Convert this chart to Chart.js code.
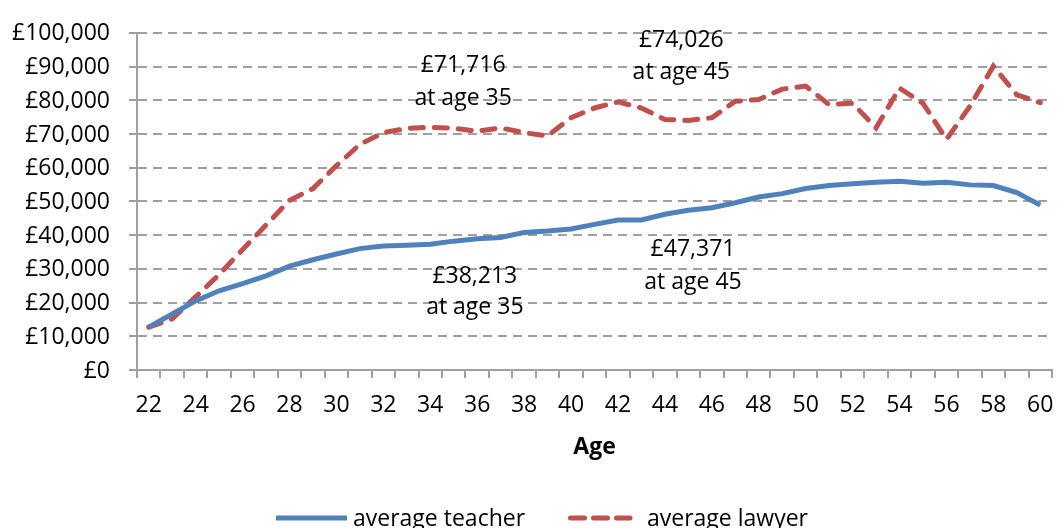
<!DOCTYPE html>
<html lang="en">
<head>
<meta charset="UTF-8" />
<title>Average teacher and lawyer pay by age</title>
<script src="https://cdn.jsdelivr.net/npm/chart.js"></script>
<style>
  body { margin: 0; background: #fff; }
  canvas { display: block; }
</style>
</head>
<body>
<canvas id="payChart" width="1057" height="528"></canvas>
<script>
const ages = [22, 23, 24, 25, 26, 27, 28, 29, 30, 31, 32, 33, 34, 35, 36, 37, 38, 39, 40,
  41, 42, 43, 44, 45, 46, 47, 48, 49, 50, 51, 52, 53, 54, 55, 56, 57, 58, 59, 60];

const teacherPay = [12700, 16600, 20500, 23500, 25600, 27900, 30800, 32700, 34400, 36000,
  36800, 37000, 37300, 38213, 38900, 39300, 40800, 41200, 41800, 43200,
  44500, 44500, 46200, 47371, 48100, 49600, 51300, 52300, 53800, 54700,
  55200, 55700, 56000, 55400, 55700, 54900, 54700, 52600, 48900];

const lawyerPay = [12700, 15200, 21700, 28300, 35700, 43000, 50300, 53800, 60600, 66900,
  70400, 71600, 72000, 71716, 70800, 71800, 70400, 69400, 74800, 77700,
  79500, 77700, 74300, 74026, 74800, 79700, 80200, 83300, 84200, 78700,
  79100, 71800, 83600, 79100, 68400, 78200, 90100, 81600, 79300];

// text notes on the plot, placed at an age and a pay level
const noteLines = ['£71,716', 'at age 35', '£74,026', 'at age 45',
  '£38,213', 'at age 35', '£47,371', 'at age 45'];
const noteAges = [35.4, 35.4, 44.7, 44.7, 35.9, 35.9, 45.2, 45.2];
const notePay = [90300, 80600, 97700, 88300, 27800, 18500, 35800, 26100];

Chart.defaults.font.family = '"Open Sans", sans-serif';
Chart.defaults.font.size = 23;
Chart.defaults.color = '#000';

const gridGrey = '#a0a0a0';

const notesPlugin = {
  id: 'notes',
  afterDatasetsDraw(chart) {
    const { ctx, scales: { x, y } } = chart;
    ctx.save();
    ctx.font = '23px "Open Sans"';
    ctx.fillStyle = '#000';
    ctx.textAlign = 'center';
    ctx.textBaseline = 'middle';
    noteLines.forEach((t, i) => {
      ctx.fillText(t, x.getPixelForValue(noteAges[i] - ages[0]), y.getPixelForValue(notePay[i]));
    });
    ctx.restore();
  }
};

// Excel-style legend: a short stroke of the series line then its name
const lineLegend = {
  id: 'lineLegend',
  afterDraw(chart) {
    const ctx = chart.ctx;
    const starts = [276, 568];
    const lineY = 518;
    ctx.save();
    ctx.font = '23px "Open Sans"';
    ctx.textBaseline = 'alphabetic';
    chart.data.datasets.forEach((ds, i) => {
      const x0 = starts[i];
      ctx.strokeStyle = ds.borderColor;
      ctx.lineWidth = 5;
      ctx.lineCap = ds.borderDash ? 'round' : 'butt';
      ctx.setLineDash(ds.borderDash ? [14, 9] : []);
      ctx.beginPath();
      ctx.moveTo(x0 + (ds.borderDash ? 2.5 : 0), lineY);
      ctx.lineTo(x0 + (ds.borderDash ? 62 : 71), lineY);
      ctx.stroke();
      ctx.fillStyle = '#000';
      ctx.fillText(ds.label, x0 + (ds.borderDash ? 79 : 77), 526);
    });
    ctx.restore();
  }
};

new Chart(document.getElementById('payChart'), {
  type: 'line',
  data: {
    labels: ages,
    datasets: [
      {
        label: 'average teacher',
        data: teacherPay,
        borderColor: '#4F81BD',
        borderWidth: 5,
        pointRadius: 0,
        tension: 0
      },
      {
        label: 'average lawyer',
        data: lawyerPay,
        borderColor: '#C0504D',
        borderWidth: 5,
        borderDash: [13, 11],
        borderCapStyle: 'round',
        pointRadius: 0,
        tension: 0
      }
    ]
  },
  options: {
    responsive: false,
    animation: false,
    layout: { padding: { top: 26, right: 5, left: 0, bottom: 0 } },
    plugins: {
      legend: { display: false },
      tooltip: { enabled: false }
    },
    scales: {
      x: {
        offset: true,
        grid: { drawOnChartArea: false, offset: true, tickLength: 8, color: gridGrey, lineWidth: 2, tickBorderDash: [] },
        border: { color: gridGrey, width: 2 },
        ticks: {
          autoSkip: false,
          maxRotation: 0,
          padding: 14,
          callback: (v, i) => (ages[i] % 2 === 0 ? ages[i] : '')
        },
        title: {
          display: true,
          text: 'Age',
          font: { weight: 'bold' },
          padding: { top: 0, bottom: 67 }
        },
        afterFit(scale) {
          scale.height = 158;
          scale.paddingLeft = 0;
          scale.paddingRight = 0;
        }
      },
      y: {
        min: 0,
        max: 100000,
        ticks: {
          stepSize: 10000,
          padding: 19,
          labelOffset: 1,
          callback: v => '£' + v.toLocaleString('en-GB')
        },
        grid: { color: gridGrey, lineWidth: 2, tickLength: 8, tickBorderDash: [] },
        border: { color: gridGrey, width: 2, dash: [9, 6] },
        afterFit(scale) { scale.width = 137; }
      }
    }
  },
  plugins: [notesPlugin, lineLegend]
});
</script>
</body>
</html>
